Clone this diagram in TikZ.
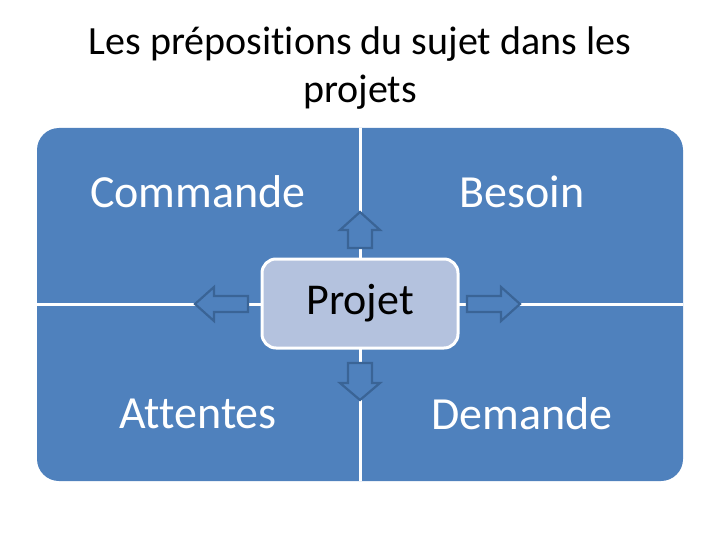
\documentclass[tikz,border=0pt]{standalone}
\usepackage{fontspec}
\setmainfont{Carlito}[Ligatures=CommonOff]
\definecolor{bg}{HTML}{4F81BD}
\definecolor{inner}{HTML}{B4C2DE}
\definecolor{edge}{HTML}{3A6496}
\tikzset{quad/.style={text=white,font=\fontsize{46}{52}\selectfont},
 blockarrow/.style={draw=edge,fill=bg,line width=2.2pt,line join=miter}}
\begin{document}
\begin{tikzpicture}[x=1pt,y=-1pt]
\useasboundingbox (0,0) rectangle (720,540);
\node[align=center,font=\fontsize{40}{48}\selectfont] (title) at (360,68) {Les prépositions du sujet dans les\\projets};
\path[fill=bg,rounded corners=22pt] (37,128) rectangle (683,481);
\draw[white,line width=3pt] (360,128) -- (360,481);
\draw[white,line width=3pt] (37,304) -- (683,304);
\node[draw=white,line width=3pt,fill=inner,rounded corners=14pt,minimum width=196pt,minimum height=89pt] (p) at (360,303.5) {};
\node[font=\fontsize{44}{50}\selectfont] at (360,303) {Projet};
\node[quad] (c) at (198,192) {Commande};
\node[quad] (b) at (522,192) {Besoin};
\node[quad] (a) at (198,414) {Attentes};
\node[quad] (d) at (522,414) {Demande};
\draw[blockarrow] (348,248) -- (348,230) -- (340,230) -- (360,212) -- (380,230) -- (372,230) -- (372,248) -- cycle;
\draw[blockarrow] (348,363) -- (348,383) -- (340,383) -- (360,400) -- (380,383) -- (372,383) -- (372,363) -- cycle;
\draw[blockarrow] (248,296) -- (214,296) -- (214,287) -- (195,304) -- (214,321) -- (214,312) -- (248,312) -- cycle;
\draw[blockarrow] (467,296) -- (501,296) -- (501,287) -- (520,304) -- (501,321) -- (501,312) -- (467,312) -- cycle;
\end{tikzpicture}
\end{document}
